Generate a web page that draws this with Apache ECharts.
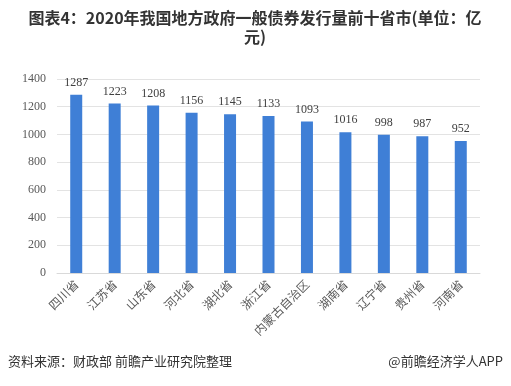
<!DOCTYPE html>
<html><head><meta charset="utf-8">
<script src="https://cdn.jsdelivr.net/npm/echarts@6/dist/echarts.min.js"></script>
<style>html,body{margin:0;padding:0;background:#fff}#c{width:511px;height:386px}</style>
</head><body><div id="c"></div>
<script>
const categories = ['四川省','江苏省','山东省','河北省','湖北省','浙江省','内蒙古自治区','湖南省','辽宁省','贵州省','河南省'];
const values = [1287,1223,1208,1156,1145,1133,1093,1016,998,987,952];
const titleText = '图表4：2020年我国地方政府一般债券发行量前十省市(单位：亿\n元)';
const sourceText = '资料来源：财政部 前瞻产业研究院整理';
const brandText = '@前瞻经济学人APP';

const chart = echarts.init(document.getElementById('c'));
chart.setOption({
  backgroundColor: '#fff',
  animation: false,
  graphic: [
    {type: 'text', x: 255, y: 8, style: {text: titleText, align: 'center', font: 'bold 16px "Noto Sans CJK SC", sans-serif', fill: '#333', lineHeight: 19}},
    {type: 'text', left: 8, top: 355, style: {text: sourceText, font: '13px "Noto Sans CJK SC", sans-serif', fill: '#333'}},
    {type: 'text', right: 8, top: 355, style: {text: brandText, font: '13px "Noto Sans CJK SC", sans-serif', fill: '#333'}}
  ],
  grid: {left: 57, right: 31, top: 79, bottom: 113},
  xAxis: {
    type: 'category', data: categories,
    axisLine: {lineStyle: {color: '#d9d9d9'}},
    axisTick: {show: false},
    axisLabel: {rotate: 45, interval: 0, color: '#595959', fontSize: 12, margin: 9, fontFamily: '"Noto Sans CJK SC", sans-serif'}
  },
  yAxis: {
    type: 'value', min: 0, max: 1400, interval: 200,
    axisLine: {show: false}, axisTick: {show: false},
    splitLine: {lineStyle: {color: '#e3e3e3'}},
    axisLabel: {color: '#595959', fontSize: 12, margin: 11, fontFamily: '"Liberation Serif", serif', formatter: v => String(v)}
  },
  series: [{
    type: 'bar', data: values, barWidth: 12,
    itemStyle: {color: '#3f7fd6'},
    label: {show: true, position: 'top', distance: 6, color: '#404040', fontSize: 12, fontFamily: '"Liberation Serif", serif'}
  }]
});
</script></body></html>
